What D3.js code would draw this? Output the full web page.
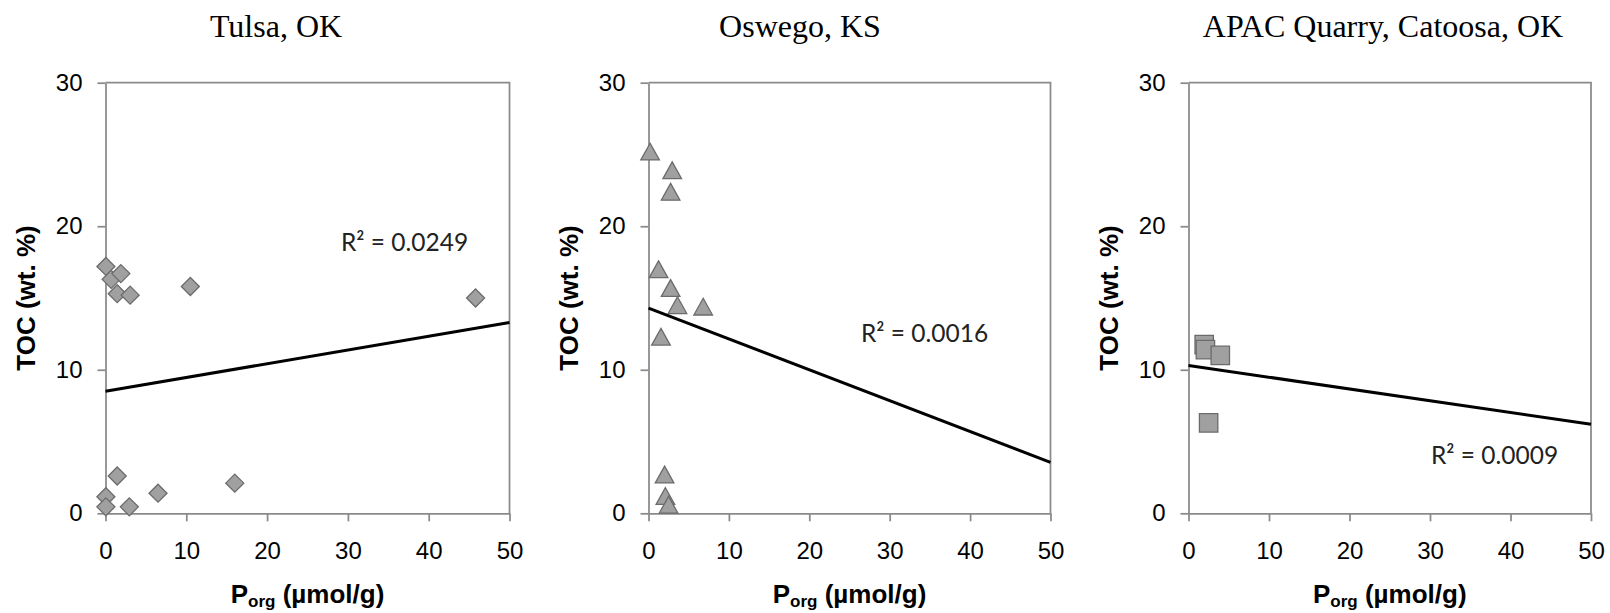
<!DOCTYPE html>
<html>
<head>
<meta charset="utf-8">
<script src="https://cdn.jsdelivr.net/npm/d3@7"></script>
<style>
  html, body { margin: 0; padding: 0; background: #fff; }
  svg { display: block; }
  .tick text { font-family: "Liberation Sans", Arial, sans-serif; font-size: 24px; fill: #000; }
</style>
</head>
<body>
<svg id="chart" width="1610" height="613"></svg>
<script>
// data
const panelTitles = ["Tulsa, OK", "Oswego, KS", "APAC Quarry, Catoosa, OK"];

const tulsaP   = [0.05, 0.7, 1.9, 1.45, 3.05, 10.5, 45.8, 1.45, 16.0, 0.05, 6.5, 0.05, 2.95];
const tulsaTOC = [17.2, 16.3, 16.7, 15.3, 15.2, 15.8, 15.0, 2.6, 2.1, 1.15, 1.4, 0.45, 0.45];

const oswegoP   = [0.2, 2.95, 2.75, 1.25, 2.75, 3.6, 6.8, 1.55, 2.0, 2.1, 2.5];
const oswegoTOC = [25.2, 23.9, 22.4, 17.0, 15.7, 14.5, 14.4, 12.3, 2.7, 1.2, 0.6];

const apacP   = [1.95, 2.1, 3.95, 2.5];
const apacTOC = [11.75, 11.4, 11.0, 6.3];

// trend line values at P = 0 and P = 50
const trendAtZero = [8.5, 14.3, 10.3];
const trendAtFifty = [13.3, 3.55, 6.2];

const r2Labels = ["R\u00b2 = 0.0249", "R\u00b2 = 0.0016", "R\u00b2 = 0.0009"];

const xTicks = [0, 10, 20, 30, 40, 50];
const yTicks = [0, 10, 20, 30];

const xTitle = "P";
const xTitleSub = "org";
const xTitleRest = " (\u00b5mol/g)";
const yTitle = "TOC (wt. %)";

// shapes
const diamond = { draw(ctx, r) { ctx.moveTo(0, -r); ctx.lineTo(r, 0); ctx.lineTo(0, r); ctx.lineTo(-r, 0); ctx.closePath(); } };
const triangle = { draw(ctx, r) { ctx.moveTo(0, -r * 0.9); ctx.lineTo(r, r * 0.9); ctx.lineTo(-r, r * 0.9); ctx.closePath(); } };
const square = { draw(ctx, r) { ctx.rect(-r, -r, 2 * r, 2 * r); } };

const panels = [
    {xs: tulsaP, ys: tulsaTOC, shape: diamond, r: 9, left: 105.5, right: 509.5, titleX: 276, r2x: 341, r2y: 251},
    {xs: oswegoP, ys: oswegoTOC, shape: triangle, r: 9.3, left: 648.5, right: 1050.5, titleX: 800, r2x: 861, r2y: 342},
    {xs: apacP, ys: apacTOC, shape: square, r: 9.2, left: 1188.5, right: 1591, titleX: 1383, r2x: 1431, r2y: 464}
];

const plotTop = 82.7, plotBottom = 513.3;
const axisColor = "#8a8a8a";

const svg = d3.select("#chart");

panels.forEach((p, i) => {
    const x = d3.scaleLinear().domain([0, 50]).range([p.left, p.right]);
    const y = d3.scaleLinear().domain([0, 30]).range([plotBottom, plotTop]);
    const g = svg.append("g");

    // title
    g.append("text")
        .attr("x", p.titleX)
        .attr("y", 37)
        .attr("text-anchor", "middle")
        .style("font-family", "'Liberation Serif', 'Times New Roman', serif")
        .style("font-size", "32px")
        .text(panelTitles[i]);

    // frame (top and right)
    g.append("path")
        .attr("d", `M${x(0)},${y(30)}H${x(50)}V${y(0)}`)
        .attr("fill", "none")
        .attr("stroke", axisColor)
        .attr("stroke-width", 1.75);

    // axes
    const xAxis = g.append("g")
        .attr("transform", `translate(0,${plotBottom})`)
        .call(d3.axisBottom(x).tickValues(xTicks).tickSize(8).tickPadding(21).tickSizeOuter(0));
    const yAxis = g.append("g")
        .attr("transform", `translate(${p.left},0)`)
        .call(d3.axisLeft(y).tickValues(yTicks).tickSize(8).tickPadding(15).tickSizeOuter(0));
    [xAxis, yAxis].forEach(a => {
        a.select(".domain").attr("stroke", axisColor).attr("stroke-width", 1.75);
        a.selectAll(".tick line").attr("stroke", axisColor).attr("stroke-width", 1.75);
    });

    // axis titles
    const xt = g.append("text")
        .attr("x", (p.left + p.right) / 2)
        .attr("y", 603)
        .attr("text-anchor", "middle")
        .style("font-family", "'Liberation Sans', Arial, sans-serif")
        .style("font-weight", "bold")
        .style("font-size", "26px");
    xt.append("tspan").text(xTitle);
    xt.append("tspan").attr("dy", 4).style("font-size", "17px").text(xTitleSub);
    xt.append("tspan").attr("dy", -4).text(xTitleRest);

    g.append("text")
        .attr("transform", `translate(${p.left - 71},${(plotTop + plotBottom) / 2}) rotate(-90)`)
        .attr("text-anchor", "middle")
        .style("font-family", "'Liberation Sans', Arial, sans-serif")
        .style("font-weight", "bold")
        .style("font-size", "26px")
        .text(yTitle);

    // markers
    const sym = d3.symbol().type(p.shape).size(p.r);
    g.selectAll(".pt")
        .data(d3.zip(p.xs, p.ys))
        .enter().append("path")
        .attr("class", "pt")
        .attr("transform", d => `translate(${x(d[0])},${y(d[1])})`)
        .attr("d", sym)
        .attr("fill", "#a0a0a0")
        .attr("stroke", "#6b6b6b")
        .attr("stroke-width", 1.3);

    // linear trend line
    g.append("line")
        .attr("x1", x(0)).attr("y1", y(trendAtZero[i]))
        .attr("x2", x(50)).attr("y2", y(trendAtFifty[i]))
        .attr("stroke", "#000")
        .attr("stroke-width", 3);

    // R² label
    g.append("text")
        .attr("x", p.r2x)
        .attr("y", p.r2y)
        .style("font-family", "Lato, 'Open Sans', sans-serif")
        .style("font-size", "24.5px")
        .style("fill", "#222")
        .text(r2Labels[i]);
});
</script>
</body>
</html>
